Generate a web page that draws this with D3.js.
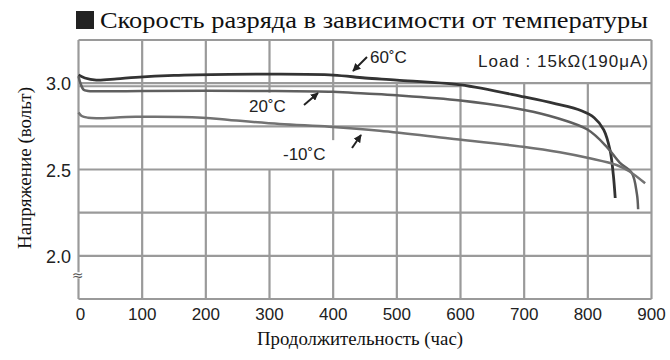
<!DOCTYPE html>
<html>
<head>
<meta charset="utf-8">
<script src="https://cdn.jsdelivr.net/npm/d3@7"></script>
<style>
  html, body { margin: 0; padding: 0; background: #fff; }
  svg { display: block; }
</style>
</head>
<body>
<svg id="chart" width="670" height="360"></svg>
<script>
// ---- Data ----
const title = "Скорость разряда в зависимости от температуры";
const xTitle = "Продолжительность (час)";
const yTitle = "Напряжение (вольт)";
const loadLabel = "Load : 15kΩ(190μA)";

const xTicks = [0, 100, 200, 300, 400, 500, 600, 700, 800, 900];
const yTickValues = [3.0, 2.5, 2.0];
const yTickLabels = ["3.0", "2.5", "2.0"];
const yGrid = [3.25, 3.0, 2.75, 2.5, 2.25, 2.0, 1.75];

const seriesNames = ["60˚C", "20˚C", "-10˚C"];

const hours60 = [0, 10, 28, 60, 90, 150, 237, 300, 400, 450, 500, 600, 700, 750, 790, 810, 825, 835, 840, 843];
const volts60 = [3.047, 3.03, 3.018, 3.025, 3.034, 3.045, 3.051, 3.052, 3.047, 3.03, 3.018, 2.99, 2.92, 2.88, 2.84, 2.80, 2.73, 2.61, 2.47, 2.335];

const hours20 = [0, 3, 8, 15, 100, 300, 400, 450, 500, 600, 700, 750, 800, 830, 850, 869, 877, 879];
const volts20 = [3.04, 3.0, 2.962, 2.955, 2.955, 2.955, 2.95, 2.94, 2.93, 2.90, 2.845, 2.80, 2.73, 2.63, 2.54, 2.48, 2.36, 2.27];

const hoursM10 = [0, 5, 15, 28, 90, 195, 237, 316, 394, 473, 583, 698, 756, 803, 845, 865, 890];
const voltsM10 = [2.83, 2.81, 2.80, 2.797, 2.805, 2.80, 2.787, 2.764, 2.748, 2.725, 2.68, 2.632, 2.60, 2.565, 2.526, 2.49, 2.42];

// ---- Layout ----
const svg = d3.select("#chart");
const mLeft = 78.5, mRight = 651.5, mTop = 40, mBottom = 299;
const x = d3.scaleLinear().domain([0, 900]).range([mLeft, mRight]);
const y = d3.scaleLinear().domain([1.75, 3.25]).range([mBottom, mTop]);
const gridColor = "#9a9a9a";
const sansFont = "'Liberation Sans', Arial, sans-serif";
const serifFont = "'Liberation Serif', 'DejaVu Serif', serif";

// Title
svg.append("rect").attr("x", 76).attr("y", 11).attr("width", 18).attr("height", 18).attr("fill", "#222");
svg.append("text").attr("x", 100).attr("y", 28)
  .attr("font-family", serifFont)
  .attr("font-size", 24).attr("fill", "#111")
  .attr("textLength", 548).attr("lengthAdjust", "spacingAndGlyphs")
  .text(title);

const grid = svg.append("g").attr("stroke", gridColor).attr("stroke-width", 2.2).attr("fill", "none");

// Horizontal grid lines
yGrid.forEach(v => {
  grid.append("line").attr("x1", x(0)).attr("x2", x(900)).attr("y1", y(v)).attr("y2", y(v));
});
// doubled line under 3.0 as in the reference
grid.append("line").attr("x1", x(0)).attr("x2", x(600)).attr("y1", y(2.982)).attr("y2", y(2.982))
  .attr("stroke-width", 1.8);

// Vertical grid line segments (in data units)
const vSegments = {
  0: [[3.25, 1.905], [1.87, 1.75]],
  100: [[3.25, 1.75]],
  200: [[3.25, 1.75]],
  300: [[3.25, 2.945], [2.5, 1.75]],
  400: [[3.25, 2.67], [2.5, 1.75]],
  500: [[3.0, 1.75]],
  600: [[3.0, 1.75]],
  700: [[3.0, 1.75]],
  800: [[3.0, 1.75]],
  900: [[3.25, 1.75]]
};
xTicks.forEach(t => {
  vSegments[t].forEach(([a, b]) => {
    grid.append("line").attr("x1", x(t)).attr("x2", x(t)).attr("y1", y(a)).attr("y2", y(b));
  });
});

// Axis break symbol
svg.append("text").attr("x", x(0) - 1).attr("y", 280)
  .attr("text-anchor", "middle").attr("font-family", "'DejaVu Sans', sans-serif")
  .attr("font-size", 14).attr("fill", "#555").text("≈");

// Y tick labels
svg.append("g").selectAll("text").data(yTickValues).join("text")
  .attr("x", 71).attr("y", d => y(d) + 7)
  .attr("text-anchor", "end")
  .attr("font-family", sansFont)
  .attr("font-size", 18).attr("fill", "#222")
  .text((d, i) => yTickLabels[i]);

// X tick labels
svg.append("g").selectAll("text").data(xTicks).join("text")
  .attr("x", d => x(d) + (d === 0 ? 2 : 0)).attr("y", 320)
  .attr("text-anchor", "middle")
  .attr("font-family", sansFont)
  .attr("font-size", 17).attr("fill", "#222")
  .text(d => d);

// Axis titles
svg.append("text").attr("x", 360).attr("y", 345)
  .attr("text-anchor", "middle")
  .attr("font-family", serifFont)
  .attr("font-size", 18).attr("fill", "#111")
  .attr("textLength", 206).attr("lengthAdjust", "spacingAndGlyphs")
  .text(xTitle);

svg.append("text")
  .attr("transform", "translate(31,168) rotate(-90)")
  .attr("text-anchor", "middle")
  .attr("font-family", serifFont)
  .attr("font-size", 18).attr("fill", "#111")
  .attr("textLength", 162).attr("lengthAdjust", "spacingAndGlyphs")
  .text(yTitle);

// Load label
svg.append("text").attr("x", 648).attr("y", 67)
  .attr("text-anchor", "end")
  .attr("font-family", sansFont)
  .attr("font-size", 17).attr("fill", "#222")
  .attr("textLength", 170).attr("lengthAdjust", "spacing")
  .text(loadLabel);

// Curves
const series = [
  { h: hours60, v: volts60, color: "#333333", w: 2.8 },
  { h: hours20, v: volts20, color: "#5f5f5f", w: 2.5 },
  { h: hoursM10, v: voltsM10, color: "#727272", w: 2.5 }
];
const lineCurve = d3.line().x(d => x(d[0])).y(d => y(d[1])).curve(d3.curveCatmullRom.alpha(0.5));
series.forEach(s => {
  svg.append("path")
    .datum(s.h.map((h, i) => [h, s.v[i]]))
    .attr("fill", "none").attr("stroke", s.color).attr("stroke-width", s.w)
    .attr("stroke-linejoin", "round").attr("stroke-linecap", "butt")
    .attr("d", lineCurve);
});

// Series labels and arrows
svg.append("defs").append("marker")
  .attr("id", "ah").attr("viewBox", "0 0 10 10").attr("refX", 9).attr("refY", 5)
  .attr("markerWidth", 4).attr("markerHeight", 4).attr("orient", "auto")
  .append("path").attr("d", "M0,0 L10,5 L0,10 z").attr("fill", "#222");

const labels = [
  { text: seriesNames[0], tx: 370, ty: 63, ax1: 367, ay1: 57, ax2: 353, ay2: 71 },
  { text: seriesNames[1], tx: 249, ty: 112, ax1: 304, ay1: 105, ax2: 318, ay2: 93 },
  { text: seriesNames[2], tx: 283, ty: 160, ax1: 352, ay1: 148, ax2: 361, ay2: 135 }
];
labels.forEach(l => {
  svg.append("text").attr("x", l.tx).attr("y", l.ty)
    .attr("font-family", sansFont).attr("font-size", 17).attr("fill", "#222")
    .text(l.text);
  svg.append("line").attr("x1", l.ax1).attr("y1", l.ay1).attr("x2", l.ax2).attr("y2", l.ay2)
    .attr("stroke", "#222").attr("stroke-width", 2).attr("marker-end", "url(#ah)");
});
</script>
</body>
</html>
